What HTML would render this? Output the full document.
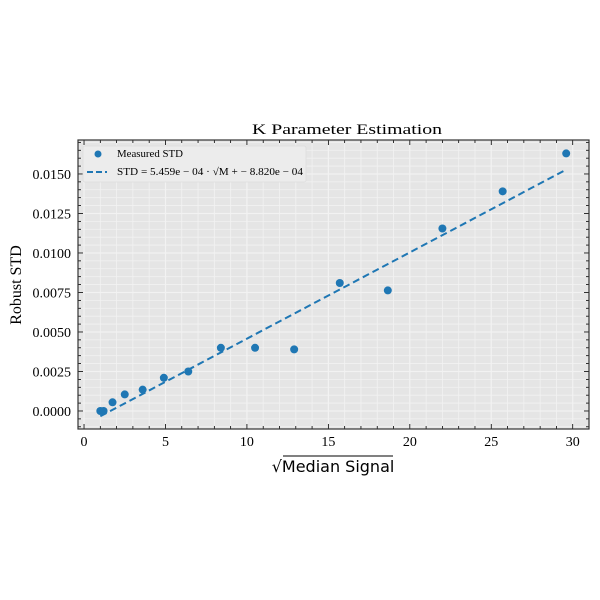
<!DOCTYPE html>
<html><head><meta charset="utf-8">
<style>
body{margin:0;background:#fff;width:600px;height:600px;overflow:hidden}
svg{display:block}
text{font-family:"Liberation Serif",serif;fill:#000}
</style></head>
<body>
<svg id="chart" width="600" height="600"></svg>
<script>
const xValues=[1.0,1.2,1.75,2.5,3.6,4.9,6.4,8.4,10.5,12.9,15.7,18.65,22.0,25.7,29.6];
const yValues=[0.0,0.0,0.00055,0.00105,0.00135,0.0021,0.0025,0.0040,0.0040,0.0039,0.0081,0.00763,0.01155,0.0139,0.0163];
const fitSlope=5.459e-4;
const fitIntercept=-8.820e-4;
const xTicks=[0,5,10,15,20,25,30];
const yTicks=[0,0.0025,0.005,0.0075,0.01,0.0125,0.015];
const yTickLabels=["0.0000","0.0025","0.0050","0.0075","0.0100","0.0125","0.0150"];

const L=78,R=589,T=140,B=429;
const xMin=-0.37,xMax=31.0,yMin=-0.00114,yMax=0.01715;
const sx=v=>L+(v-xMin)/(xMax-xMin)*(R-L);
const sy=v=>B-(v-yMin)/(yMax-yMin)*(B-T);
const svg=document.getElementById('chart');
const NS='http://www.w3.org/2000/svg';
function mk(tag,attrs,parent){const e=document.createElementNS(NS,tag);for(const k in attrs)e.setAttribute(k,attrs[k]);(parent||svg).appendChild(e);return e;}

const bg=mk('rect',{x:L,y:T,width:R-L,height:B-T,fill:'#e5e5e5'});



const grid=mk('g',{});


for(let v=0;v<=31;v+=1){mk('line',{x1:sx(v),x2:sx(v),y1:T,y2:B,stroke:'#f2f2f2','stroke-width':v%5===0?1.2:0.8},grid);}
for(let v=-0.001;v<=0.0171;v+=0.0005){const y=sy(v);mk('line',{x1:L,x2:R,y1:y,y2:y,stroke:'#f2f2f2','stroke-width':Math.abs(Math.round(v/0.0025)*0.0025-v)<1e-7?1.2:0.8},grid);}

const ticks=mk('g',{});


for(let v=0;v<=31;v+=1){const x=sx(v);const len=v%5===0?5:3;mk('line',{x1:x,x2:x,y1:B,y2:B-len,stroke:'#000','stroke-width':0.8},ticks);mk('line',{x1:x,x2:x,y1:T,y2:T+len,stroke:'#000','stroke-width':0.8},ticks);}
for(let v=-0.001;v<=0.0171;v+=0.0005){const y=sy(v);const len=Math.abs(Math.round(v/0.0025)*0.0025-v)<1e-7?5:3;mk('line',{x1:L,x2:L+len,y1:y,y2:y,stroke:'#000','stroke-width':0.8},ticks);mk('line',{x1:R,x2:R-len,y1:y,y2:y,stroke:'#000','stroke-width':0.8},ticks);}

xTicks.forEach(v=>{const t=mk('text',{x:sx(v),y:B+17,'text-anchor':'middle','font-size':14});t.textContent=v;

});
yTicks.forEach((v,i)=>{const t=mk('text',{x:L-7,y:sy(v)+5,'text-anchor':'end','font-size':14});t.textContent=yTickLabels[i];

});

const x0=xValues[0],x1=xValues[xValues.length-1];
const fit=mk('line',{x1:sx(x0),y1:sy(fitSlope*x0+fitIntercept),x2:sx(x1),y2:sy(fitSlope*x1+fitIntercept),stroke:'#1f77b4','stroke-width':2,'stroke-dasharray':'7,4'});



xValues.forEach((xv,i)=>{const c=mk('circle',{cx:sx(xv),cy:sy(yValues[i]),r:4,fill:'#1f77b4'});

});

const frame=mk('rect',{x:L,y:T,width:R-L,height:B-T,fill:'none',stroke:'#333','stroke-width':1.2});



const lg=mk('g',{});


mk('rect',{x:83,y:146,width:223,height:36,rx:2,fill:'#ececec',stroke:'#ddd','stroke-width':0.8},lg);
mk('circle',{cx:98,cy:154,r:3.5,fill:'#1f77b4'},lg);
const t1=mk('text',{x:117,y:157,'font-size':10.5,textLength:66,lengthAdjust:'spacingAndGlyphs'},lg);t1.textContent='Measured STD';


mk('line',{x1:87,x2:107,y1:172,y2:172,stroke:'#1f77b4','stroke-width':2,'stroke-dasharray':'6,3'},lg);
const t2=mk('text',{x:117,y:175,'font-size':10.5,textLength:186,lengthAdjust:'spacingAndGlyphs'},lg);t2.textContent='STD = 5.459e − 04 · √M + − 8.820e − 04';



const title=mk('text',{x:252,y:134,'font-size':15,textLength:190,lengthAdjust:'spacingAndGlyphs'});title.textContent='K Parameter Estimation';


const xl=mk('text',{x:333,y:472,'text-anchor':'middle','font-size':16,style:'font-family:"DejaVu Sans",sans-serif'});xl.textContent='√Median Signal';


const ov=mk('line',{x1:283,x2:393,y1:456,y2:456,stroke:'#000','stroke-width':1});


const yl=mk('text',{x:21,y:285,'text-anchor':'middle','font-size':16,transform:'rotate(-90 21 285)'});yl.textContent='Robust STD';


</script>
</body></html>
